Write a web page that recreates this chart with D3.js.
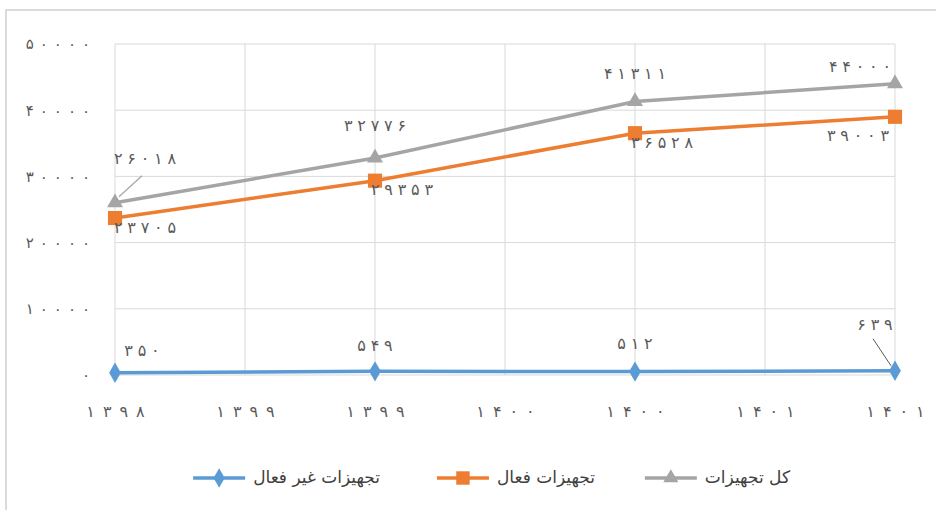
<!DOCTYPE html>
<html>
<head>
<meta charset="utf-8">
<script src="https://cdn.jsdelivr.net/npm/d3@7"></script>
<style>
  body { margin: 0; background: #fff; }
  svg { display: block; font-family: 'DejaVu Sans', sans-serif; }
</style>
</head>
<body>
<div id="chart"></div>
<script>
const xLabels = ['1398', '1399', '1399', '1400', '1400', '1401', '1401']
const pointIdx = [0, 2, 4, 6]
const yTicks = [0, 10000, 20000, 30000, 40000, 50000]

const totalVals = [26018, 32776, 41311, 44000]
const activeVals = [23705, 29353, 36528, 39003]
const inactiveVals = [350, 549, 512, 639]

const seriesNames = ['کل تجهیزات', 'تجهیزات فعال', 'تجهیزات غیر فعال']
const seriesColors = ['#a5a5a5', '#ed7d31', '#5b9bd5']

const fa = s => String(s).replace(/\d/g, d => '۰۱۲۳۴۵۶۷۸۹'[d])
// digits spaced apart like the original's typeface
const spread = (s, gap) => fa(s).split('').join(gap)

const width = 936, height = 510
const margin = { top: 44, right: 41, bottom: 135, left: 115 }

const svg = d3.select('#chart')
  .append('svg')
  .attr('width', width)
  .attr('height', height)

svg.append('rect')
  .attr('x', 6).attr('y', 10)
  .attr('width', width).attr('height', height)
  .attr('fill', '#fff')
  .attr('stroke', '#d0d0d0')
  .attr('stroke-width', 1.5)

const x = d3.scalePoint()
  .domain(d3.range(xLabels.length))
  .range([margin.left, width - margin.right])

const y = d3.scaleLinear()
  .domain([0, 50000])
  .range([height - margin.bottom, margin.top])

// grid
svg.append('g')
  .attr('stroke', '#d9d9d9')
  .selectAll('line.h')
  .data(yTicks)
  .join('line')
  .attr('x1', x(0)).attr('x2', x(xLabels.length - 1))
  .attr('y1', d => y(d)).attr('y2', d => y(d))

svg.append('g')
  .attr('stroke', '#d9d9d9')
  .selectAll('line.v')
  .data(d3.range(xLabels.length))
  .join('line')
  .attr('x1', d => x(d)).attr('x2', d => x(d))
  .attr('y1', y(50000)).attr('y2', y(0))

// axes
const yAxis = g => g
  .attr('transform', `translate(${margin.left - 22}, 0)`)
  .call(d3.axisLeft(y).tickValues(yTicks).tickSize(0).tickFormat(d => spread(d, '\u2009\u2009')))
  .call(g => g.select('.domain').remove())
  .call(g => g.selectAll('text')
    .attr('fill', '#595959')
    .attr('font-size', 15)
    .attr('font-family', 'DejaVu Sans'))

const xAxis = g => g
  .attr('transform', `translate(0, ${y(0) + 28})`)
  .call(d3.axisBottom(x).tickSize(0).tickFormat(i => spread(xLabels[i], '\u2009\u2009\u200A')))
  .call(g => g.select('.domain').remove())
  .call(g => g.selectAll('text')
    .attr('fill', '#595959')
    .attr('font-size', 16)
    .attr('font-family', 'DejaVu Sans'))

svg.append('g').call(yAxis)
svg.append('g').call(xAxis)

// series
const series = [
  { vals: totalVals, color: seriesColors[0], marker: d3.symbolTriangle, size: 110 },
  { vals: activeVals, color: seriesColors[1], marker: d3.symbolSquare, size: 200 },
  { vals: inactiveVals, color: seriesColors[2], marker: d3.symbolDiamond, size: 120 }
]

const line = d3.line()
  .x(d => x(d.i))
  .y(d => y(d.v))

series.slice().reverse().forEach(s => {
  const pts = s.vals.map((v, k) => ({ i: pointIdx[k], v }))
  svg.append('path')
    .datum(pts)
    .attr('fill', 'none')
    .attr('stroke', s.color)
    .attr('stroke-width', 3.5)
    .attr('d', line)
  svg.append('g')
    .selectAll('path')
    .data(pts)
    .join('path')
    .attr('transform', d => `translate(${x(d.i)}, ${y(d.v)})`)
    .attr('d', d3.symbol(s.marker, s.size))
    .attr('fill', s.color)
})

// data labels: [dx, dy] offsets from point
const labelOffsets = [
  [[30, -43], [0, -32], [0, -27], [-35, -16]],
  [[30, 10], [27, 10], [27, 10], [-37, 20]],
  [[27, -21], [0, -25], [0, -27], [-20, -45]]
]

series.forEach((s, si) => {
  svg.append('g')
    .selectAll('text')
    .data(s.vals)
    .join('text')
    .attr('x', (v, k) => x(pointIdx[k]) + labelOffsets[si][k][0])
    .attr('y', (v, k) => y(v) + labelOffsets[si][k][1])
    .attr('text-anchor', 'middle')
    .attr('dominant-baseline', 'middle')
    .attr('font-size', 16)
    .attr('fill', '#595959')
    .text(v => spread(v, '\u2009\u200A'))
})

// leader lines
svg.append('line')
  .attr('x1', x(0) + 27).attr('y1', y(totalVals[0]) - 27)
  .attr('x2', x(0) + 4).attr('y2', y(totalVals[0]) - 6)
  .attr('stroke', '#a5a5a5').attr('stroke-width', 1.2)
svg.append('line')
  .attr('x1', x(6) - 22).attr('y1', y(inactiveVals[3]) - 32)
  .attr('x2', x(6) - 4).attr('y2', y(inactiveVals[3]) - 5)
  .attr('stroke', '#595959').attr('stroke-width', 1)

// legend (right to left)
const legendX = [790, 595, 380]
const legend = svg.append('g').attr('transform', `translate(0, ${height - 32})`)
series.forEach((s, si) => {
  const g = legend.append('g').attr('transform', `translate(${legendX[si]}, 0)`)
  g.append('text')
    .attr('x', 0)
    .attr('text-anchor', 'end')
    .attr('dominant-baseline', 'middle')
    .attr('font-size', 17)
    .attr('fill', '#404040')
    .text(seriesNames[si])
  const tw = g.select('text').node().getComputedTextLength()
  const lx = -tw - 8
  g.append('line')
    .attr('x1', lx - 52).attr('x2', lx)
    .attr('stroke', s.color).attr('stroke-width', 3.5)
  g.append('path')
    .attr('transform', `translate(${lx - 26}, 0)`)
    .attr('d', d3.symbol(s.marker, s.size * 0.9))
    .attr('fill', s.color)
})
</script>
</body>
</html>
